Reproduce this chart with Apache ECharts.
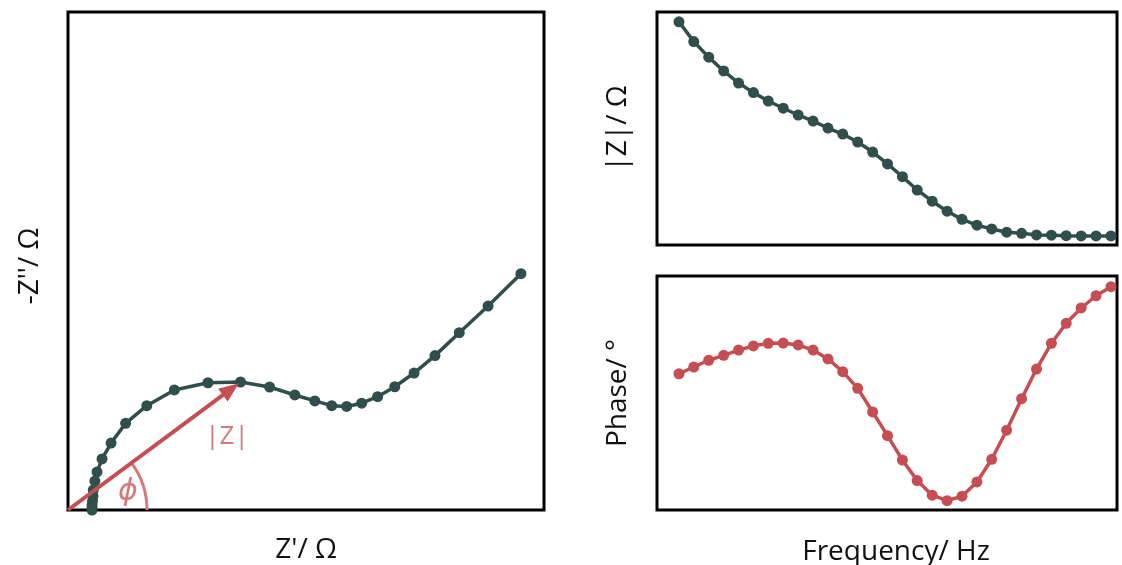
<!DOCTYPE html>
<html>
<head>
<meta charset="utf-8">
<script src="https://cdn.jsdelivr.net/npm/echarts@6/dist/echarts.min.js"></script>
<style>
  html, body { margin: 0; padding: 0; background: #fff; }
  #chart { width: 1122px; height: 565px; }
</style>
</head>
<body>
<div id="chart"></div>
<script>
// Nyquist data: real part Z' and negated imaginary part -Z'' (Ω)
const zReal = [10.1, 10.1, 10.1, 10.3, 10.5, 10.6, 11.3, 12.2, 14.3, 18.1, 24.2, 33.1, 44.7, 58.8, 72.5,
  84.7, 95.3, 103.7, 110.8, 117.1, 123.4, 130.1, 137.3, 145.4, 154.2, 164.4, 176.5, 190.3];
const zImagNeg = [0, 0.8, 2.0, 3.6, 5.6, 8.0, 11.6, 15.3, 20.5, 26.9, 34.8, 41.9, 48.2, 51.1, 51.4,
  49.4, 46.2, 43.8, 41.9, 41.6, 42.9, 45.5, 49.5, 55.0, 62.0, 71.2, 81.9, 94.9];

// Bode data: frequency (Hz), impedance magnitude |Z| (Ω) and phase (°)
const freq = [0.1, 0.158, 0.251, 0.398, 0.631, 1, 1.58, 2.51, 3.98, 6.31,
  10, 15.8, 25.1, 39.8, 63.1, 100, 158, 251, 398, 631,
  1000, 1580, 2510, 3980, 6310, 10000, 15800, 25100, 39800, 63100];
const zMag = [95.8, 87.3, 80.6, 74.7, 69.5, 65.4, 61.8, 58.7, 55.8, 53.2,
  50.2, 47.6, 44.2, 39.9, 34.8, 29.3, 23.6, 18.8, 14.5, 11.0,
  8.5, 6.9, 5.5, 5.0, 4.3, 4.2, 4.0, 3.9, 3.9, 3.9];
const phase = [52.4, 55.0, 57.6, 59.5, 61.5, 63.1, 64.1, 64.2, 63.5, 61.5,
  58.1, 53.2, 46.8, 37.7, 28.6, 19.2, 11.3, 5.7, 3.6, 5.3,
  10.8, 19.5, 30.7, 42.8, 54.2, 64.1, 71.8, 77.7, 82.4, 85.9];

// Axis titles
const titles = {
  nyqX: "Z'/ Ω", nyqY: "-Z''/ Ω",
  magY: "|Z|/ Ω", phaseY: "Phase/ °", freqX: "Frequency/ Hz"
};

const GREEN = '#2e4f4c';
const RED = '#c64d51';
const LIGHT_RED = '#d9787b';
const FONT = 'Open Sans';

const nyquist = zReal.map((x, i) => [x, zImagNeg[i]]);
const magPts = freq.map((f, i) => [f, zMag[i]]);
const phasePts = freq.map((f, i) => [f, phase[i]]);
const apex = nyquist[14]; // point where the |Z| vector ends

const hiddenAxis = {
  axisLine: { show: false }, axisTick: { show: false },
  axisLabel: { show: false }, splitLine: { show: false }
};
const nameStyle = { fontFamily: FONT, fontSize: 28, color: '#111' };

const gridBox = {
  show: true, borderColor: '#000', borderWidth: 3, backgroundColor: 'transparent',
  containLabel: false, outerBoundsMode: 'none'
};

const option = {
  animation: false,
  grid: [
    Object.assign({ left: 68, top: 12, width: 476, height: 498 }, gridBox),
    Object.assign({ left: 657, top: 12, width: 460, height: 233 }, gridBox),
    Object.assign({ left: 657, top: 276, width: 460, height: 234 }, gridBox)
  ],
  xAxis: [
    Object.assign({ type: 'value', gridIndex: 0, min: 0, max: 200, name: titles.nyqX,
      nameLocation: 'middle', nameGap: 26, nameTextStyle: nameStyle }, hiddenAxis),
    Object.assign({ type: 'log', gridIndex: 1, min: 0.0507, max: 76000 }, hiddenAxis),
    Object.assign({ type: 'log', gridIndex: 2, min: 0.0507, max: 76000, name: titles.freqX,
      nameLocation: 'middle', nameGap: 28,
      nameTextStyle: Object.assign({ padding: [0, 0, 0, 18] }, nameStyle) }, hiddenAxis)
  ],
  yAxis: [
    Object.assign({ type: 'value', gridIndex: 0, min: 0, max: 200, name: titles.nyqY,
      nameLocation: 'middle', nameGap: 24,
      nameTextStyle: Object.assign({ padding: [0, 10, 0, 0] }, nameStyle) }, hiddenAxis),
    Object.assign({ type: 'value', gridIndex: 1, min: 0, max: 100, name: titles.magY,
      nameLocation: 'middle', nameGap: 25, nameTextStyle: nameStyle }, hiddenAxis),
    Object.assign({ type: 'value', gridIndex: 2, min: 0, max: 90, name: titles.phaseY,
      nameLocation: 'middle', nameGap: 25, nameTextStyle: nameStyle }, hiddenAxis)
  ],
  series: [
    {
      type: 'line', xAxisIndex: 0, yAxisIndex: 0, data: nyquist,
      symbol: 'circle', symbolSize: 11, z: 3,
      lineStyle: { color: GREEN, width: 3.5 }, itemStyle: { color: GREEN }
    },
    {
      // |Z| vector with arrowhead, phase angle arc and the |Z| / ϕ annotations
      type: 'custom', xAxisIndex: 0, yAxisIndex: 0, data: [[0, 0]], z: 4, silent: true,
      renderItem: function (params, api) {
        const o = api.coord([0, 0]);
        const a = api.coord(apex);
        const ang = Math.atan2(a[1] - o[1], a[0] - o[0]);
        const ux = Math.cos(ang), uy = Math.sin(ang);
        const tip = [a[0] - ux * 2, a[1] - uy * 2];
        const headLen = 20, headHalf = 8;
        const base = [tip[0] - ux * headLen, tip[1] - uy * headLen];
        const mid = api.coord([66.8, 29.3]);
        const phi = api.coord([25.2, 7.2]);
        return {
          type: 'group',
          children: [
            { type: 'arc', shape: { cx: o[0], cy: o[1], r: 79, startAngle: 0, endAngle: ang, clockwise: false },
              style: { stroke: LIGHT_RED, lineWidth: 3, fill: null } },
            { type: 'line', shape: { x1: o[0], y1: o[1], x2: base[0] + ux * 2, y2: base[1] + uy * 2 },
              style: { stroke: RED, lineWidth: 4 } },
            { type: 'polygon', shape: { points: [
                tip,
                [base[0] - uy * headHalf, base[1] + ux * headHalf],
                [base[0] + uy * headHalf, base[1] - ux * headHalf]
              ] }, style: { fill: RED } },
            { type: 'text', x: mid[0], y: mid[1],
              style: { text: '|Z|', fill: LIGHT_RED, font: '26px "' + FONT + '"', align: 'center', verticalAlign: 'middle' } },
            { type: 'text', x: phi[0], y: phi[1],
              style: { text: 'ϕ', fill: LIGHT_RED, font: 'italic 30px "DejaVu Sans"', align: 'center', verticalAlign: 'middle' } }
          ]
        };
      }
    },
    {
      type: 'line', xAxisIndex: 1, yAxisIndex: 1, data: magPts,
      symbol: 'circle', symbolSize: 11,
      lineStyle: { color: GREEN, width: 3.5 }, itemStyle: { color: GREEN }
    },
    {
      type: 'line', xAxisIndex: 2, yAxisIndex: 2, data: phasePts,
      symbol: 'circle', symbolSize: 11,
      lineStyle: { color: RED, width: 3.5 }, itemStyle: { color: RED }
    }
  ]
};

const chart = echarts.init(document.getElementById('chart'), null, { renderer: 'canvas' });
chart.setOption(option);
</script>
</body>
</html>
